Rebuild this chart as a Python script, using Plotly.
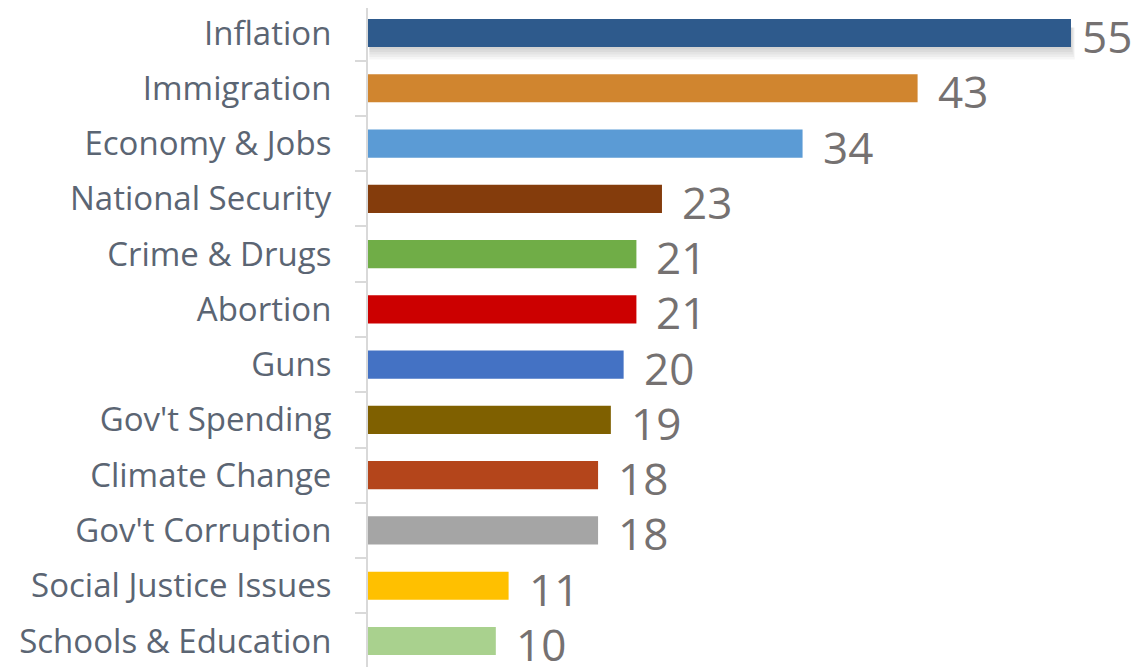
import plotly.graph_objects as go

categories = ["Inflation", "Immigration", "Economy & Jobs", "National Security",
              "Crime & Drugs", "Abortion", "Guns", "Gov't Spending",
              "Climate Change", "Gov't Corruption", "Social Justice Issues",
              "Schools & Education"]
values = [55, 43, 34, 23, 21, 21, 20, 19, 18, 18, 11, 10]
colors = ["#2E5A8C", "#D0852F", "#5B9BD5", "#843C0C", "#70AD47", "#CC0000",
          "#4472C4", "#7F6000", "#B4451B", "#A5A5A5", "#FFC000", "#A9D18E"]

fig = go.Figure()
fig.add_trace(go.Bar(
    x=values, y=categories, orientation="h",
    marker=dict(color=colors, line=dict(width=0)),
    hoverinfo="skip",
))

# soft shadow under the top bar
top_val = values[0]
for k in range(1, 6):
    fig.add_shape(type="rect", xref="x", yref="y", layer="below",
                  x0=0.1, x1=top_val + 0.06 * k,
                  y0=-0.1, y1=0.255 + 0.045 * k,
                  fillcolor="rgba(0,0,0,0.035)", line=dict(width=0))

vmax = max(values)
for c, v in zip(categories, values):
    fig.add_annotation(x=v, y=c, text=str(v), showarrow=False,
                       xanchor="left", yanchor="middle",
                       xshift=18 if v < vmax else 9, yshift=-3,
                       font=dict(family="Open Sans", size=44, color="#757171"))

n = len(categories)
fig.update_layout(
    width=1132, height=659,
    margin=dict(l=360, r=0, t=0, b=0),
    plot_bgcolor="white", paper_bgcolor="white",
    bargap=0.49, showlegend=False,
    font=dict(family="Open Sans"),
)
fig.update_xaxes(range=[0, 60.4], visible=False, showgrid=False, zeroline=False)
fig.update_yaxes(
    categoryorder="array", categoryarray=categories,
    range=[n - 0.53, -0.452],
    showline=True, linecolor="#D9D9D9", linewidth=2,
    ticks="outside", ticklen=11, tickcolor="#D9D9D9", tickwidth=2,
    tickson="boundaries", ticklabelstandoff=28,
    tickfont=dict(family="Open Sans", size=33, color="#5B6573"),
    showgrid=False, zeroline=False,
)

fig.write_html("out.html")
